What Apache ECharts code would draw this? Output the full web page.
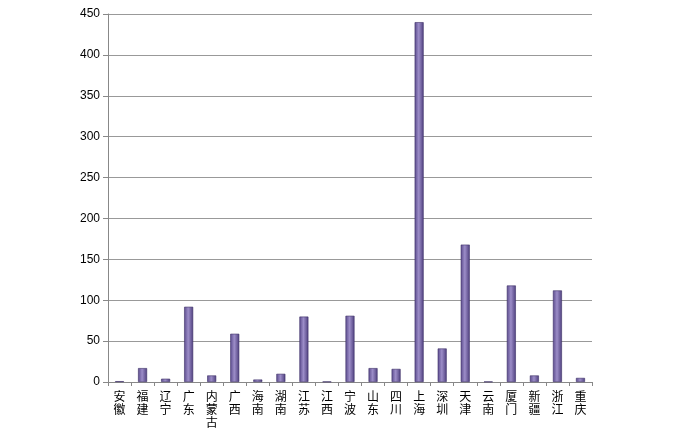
<!DOCTYPE html>
<html><head><meta charset="utf-8">
<script src="https://cdn.jsdelivr.net/npm/echarts@6/dist/echarts.min.js"></script>
<style>body{margin:0;background:#fff}#c{width:691px;height:431px}</style>
</head><body><div id="c"></div>
<script>
var categories = ['安徽','福建','辽宁','广东','内蒙古','广西','海南','湖南','江苏','江西','宁波','山东','四川','上海','深圳','天津','云南','厦门','新疆','浙江','重庆'];
var values = [1, 17, 4, 92, 8, 59, 3, 10, 80, 0.5, 81, 17, 16, 440, 41, 168, 0.5, 118, 8, 112, 5];

var myChart = echarts.init(document.getElementById('c'));
var option = {
    animation: false,
    grid: { left: 108, right: 99, top: 14, bottom: 49 },
    xAxis: {
        type: 'category',
        data: categories,
        axisTick: { show: true, length: 4, lineStyle: { color: '#888' } },
        axisLine: { lineStyle: { color: '#888' } },
        axisLabel: {
            interval: 0, color: '#000', fontSize: 12, lineHeight: 13,
            fontFamily: 'Noto Sans CJK SC',
            formatter: function (v) { return v.split('').join('\n'); }
        }
    },
    yAxis: {
        type: 'value', min: 0, max: 450, interval: 50,
        axisLine: { show: true, lineStyle: { color: '#888' } },
        axisTick: { show: true, lineStyle: { color: '#888' } },
        axisLabel: { color: '#000', fontSize: 12, fontFamily: 'Liberation Sans' },
        splitLine: { lineStyle: { color: '#999' } }
    },
    series: [{
        type: 'bar',
        data: values,
        barWidth: 9,
        itemStyle: {
            borderColor: '#3d2f66', borderWidth: 0.6,
            color: new echarts.graphic.LinearGradient(0, 0, 1, 0, [
                { offset: 0, color: '#5a4a8c' },
                { offset: 0.45, color: '#9c8dc8' },
                { offset: 1, color: '#4e3f7e' }
            ])
        }
    }]
};
myChart.setOption(option, true);
</script>
</body></html>
